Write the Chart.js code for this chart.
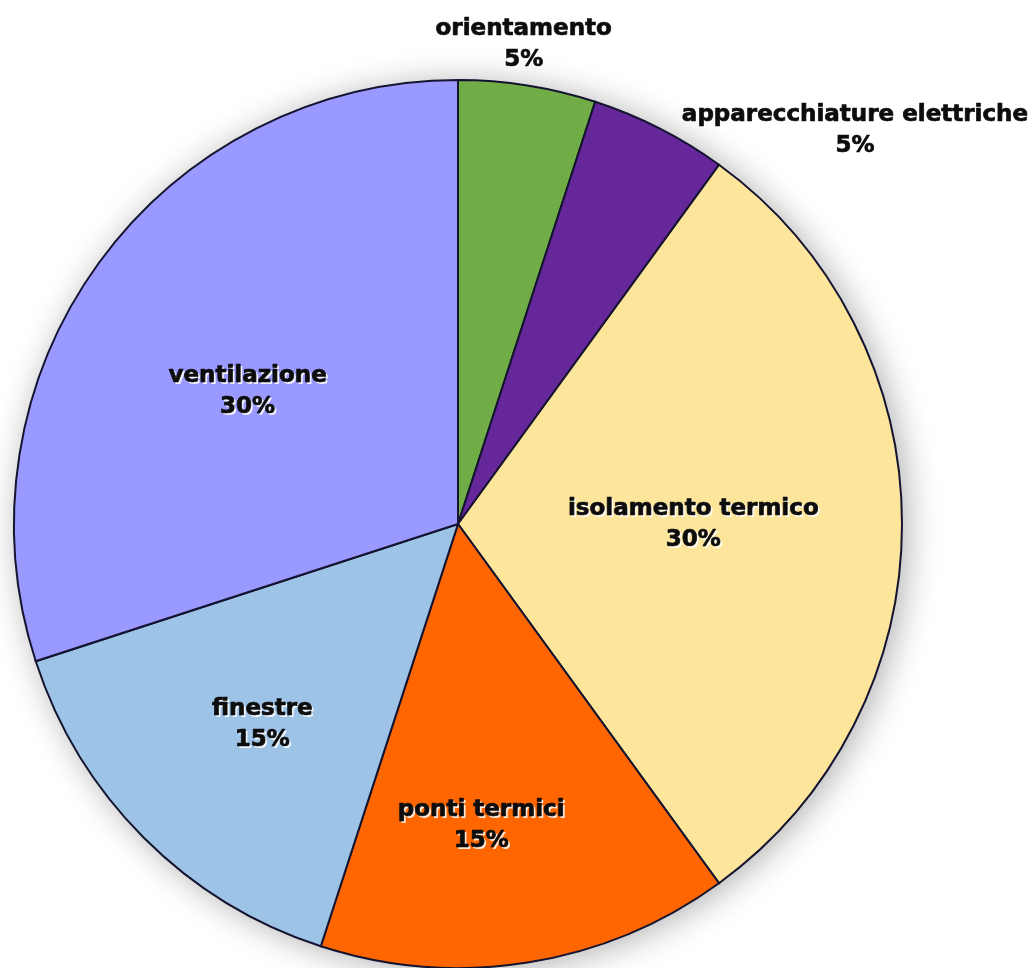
<!DOCTYPE html>
<html>
<head>
<meta charset="utf-8">
<script src="https://cdn.jsdelivr.net/npm/chart.js@4/dist/chart.umd.min.js"></script>
<style>
  html, body { margin: 0; padding: 0; background: #ffffff; overflow: hidden; }
  #wrap { position: relative; width: 1035px; height: 970px; }
</style>
</head>
<body>
<div id="wrap"><canvas id="chart"></canvas></div>
<script>
// Fattori che incidono sui consumi energetici di un edificio
const categories = [
  'orientamento',
  'apparecchiature elettriche',
  'isolamento termico',
  'ponti termici',
  'finestre',
  'ventilazione'
];
const shares = [5, 5, 30, 15, 15, 30];
const sliceColors = ['#70AD47', '#66279A', '#FDE59C', '#FF6600', '#9DC3E6', '#9999FF'];

// label anchor: radial factor (of outer radius) and angular shift in degrees
const labelPlacement = [
  { f: 1.09, da: -1.2 },
  { f: 1.26, da: 18.2 },
  { f: 0.53, da: 0 },
  { f: 0.68, da: 4.6 },
  { f: 0.63, da: -0.6 },
  { f: 0.56, da: -3.8 }
];

// soft grey glow behind the pie
const pieShadow = {
  id: 'pieShadow',
  beforeDatasetsDraw(chart) {
    const arc = chart.getDatasetMeta(0).data[0];
    if (!arc) return;
    const ctx = chart.ctx;
    ctx.save();
    ctx.shadowColor = 'rgba(0,0,0,0.32)';
    ctx.shadowBlur = 34;
    ctx.shadowOffsetX = 5;
    ctx.shadowOffsetY = 3;
    ctx.fillStyle = '#ffffff';
    ctx.beginPath();
    ctx.arc(arc.x, arc.y, arc.outerRadius, 0, Math.PI * 2);
    ctx.fill();
    ctx.restore();
  }
};

// category name + percentage, dark text with a light drop shadow
const sliceLabels = {
  id: 'sliceLabels',
  afterDatasetsDraw(chart) {
    const ctx = chart.ctx;
    const meta = chart.getDatasetMeta(0);
    const total = shares.reduce((a, b) => a + b, 0);
    ctx.save();
    ctx.font = 'bold 23px "DejaVu Sans", sans-serif';
    ctx.textAlign = 'center';
    ctx.textBaseline = 'middle';
    ctx.lineJoin = 'round';
    meta.data.forEach((arc, i) => {
      const p = labelPlacement[i];
      const mid = (arc.startAngle + arc.endAngle) / 2 + p.da * Math.PI / 180;
      const r = arc.outerRadius * p.f;
      const cx = arc.x + Math.cos(mid) * r;
      const cy = arc.y + Math.sin(mid) * r;
      const lines = [categories[i], Math.round(shares[i] / total * 100) + '%'];
      lines.forEach((t, k) => {
        const y = cy + (k === 0 ? -15 : 16);
        ctx.fillStyle = 'rgba(255,255,255,0.85)';
        ctx.fillText(t, cx + 2, y + 2);
        ctx.fillStyle = '#0d0d0d';
        ctx.strokeStyle = '#0d0d0d';
        ctx.lineWidth = 0.7;
        ctx.fillText(t, cx, y);
        ctx.strokeText(t, cx, y);
      });
    });
    ctx.restore();
  }
};

new Chart(document.getElementById('chart'), {
  type: 'pie',
  data: {
    labels: categories,
    datasets: [{
      data: shares,
      backgroundColor: sliceColors,
      borderColor: '#141430',
      borderWidth: 2,
      borderJoinStyle: 'miter'
    }]
  },
  options: {
    responsive: true,
    maintainAspectRatio: false,
    animation: false,
    layout: { padding: { left: 13, right: 132, top: 79, bottom: 1 } },
    plugins: {
      legend: { display: false },
      tooltip: { enabled: false },
      title: { display: false }
    }
  },
  plugins: [pieShadow, sliceLabels]
});
</script>
</body>
</html>
